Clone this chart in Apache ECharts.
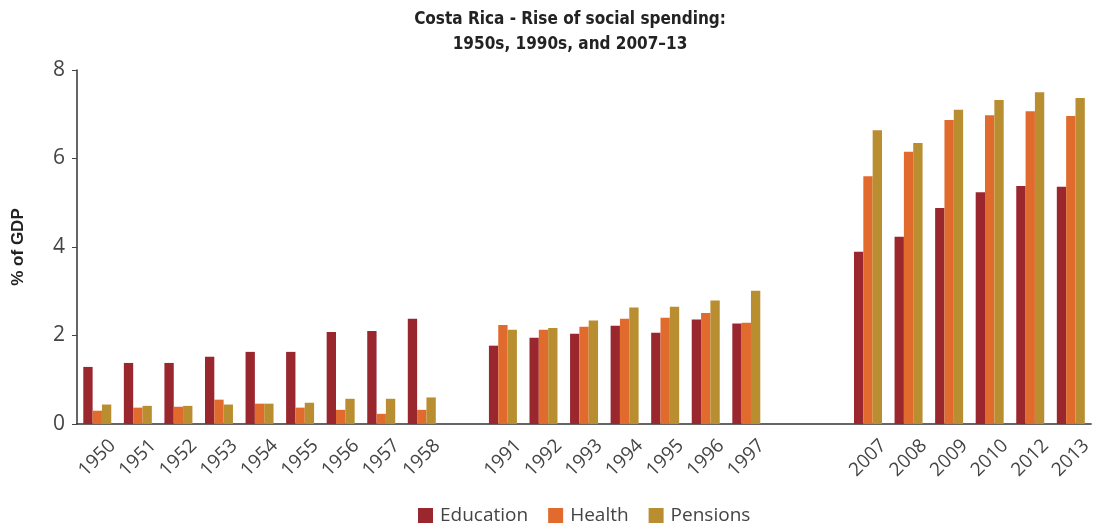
<!DOCTYPE html>
<html>
<head>
<meta charset="utf-8">
<script src="https://cdn.jsdelivr.net/npm/echarts@6/dist/echarts.min.js"></script>
<style>
html,body{margin:0;padding:0;background:#fff;}
#chart{width:1095px;height:529px;}
</style>
</head>
<body>
<div id="chart"></div>
<script>
const categories = ['1950','1951','1952','1953','1954','1955','1956','1957','1958',' ','1991','1992','1993','1994','1995','1996','1997','  ','   ','2007','2008','2009','2010','2012','2013'];
const education = [1.29,1.38,1.38,1.52,1.63,1.63,2.08,2.10,2.38,null,1.77,1.95,2.04,2.22,2.06,2.36,2.27,null,null,3.89,4.23,4.88,5.24,5.38,5.36];
const health    = [0.30,0.37,0.39,0.55,0.46,0.37,0.32,0.23,0.32,null,2.24,2.13,2.20,2.38,2.40,2.51,2.29,null,null,5.60,6.15,6.87,6.98,7.07,6.96];
const pensions  = [0.44,0.41,0.41,0.44,0.46,0.48,0.57,0.57,0.60,null,2.13,2.17,2.34,2.63,2.65,2.79,3.01,null,null,6.64,6.35,7.10,7.32,7.50,7.37];
const yTicks = [0, 2, 4, 6, 8];
const seriesNames = ['Education','Health','Pensions'];
const colors = ['#9A262E','#E06B2C','#B98E30'];

const tickIdx = new Set([0,1,2,3,4,5,6,7,8,11,12,13,14,15,16,18,20,21,22,23,24,25]);
const labelFont = '"Open Sans", Lato, sans-serif';

const chart = echarts.init(document.getElementById('chart'), null, {renderer:'canvas'});
chart.setOption({
  animation: false,
  color: colors,
  title: {
    text: 'Costa Rica - Rise of social spending:\n1950s, 1990s, and 2007\u201313',
    left: 565, top: 2, textAlign: 'center',
    textStyle: {fontFamily: '"Liberation Sans Narrow", "DejaVu Sans Condensed", sans-serif', fontWeight: 'bold', fontSize: 17, lineHeight: 25, color: '#222'}
  },
  legend: {
    data: seriesNames, bottom: -1, left: 413,
    itemWidth: 15, itemHeight: 15, itemGap: 20, icon: 'rect',
    textStyle: {fontFamily: labelFont, fontSize: 19, color: '#444', padding: [0,0,0,2]}
  },
  grid: {left: 77, right: 3, top: 70, bottom: 105, containLabel: false},
  xAxis: [{
    type: 'category', data: categories,
    axisLine: {lineStyle: {color: '#333', width: 1.5}},
    axisTick: {length: 7, lineStyle: {color: '#444', width: 1.5}, interval: (i) => tickIdx.has(i)},
    axisLabel: {interval: 0, rotate: 45, align: 'center', verticalAlign: 'middle', fontFamily: labelFont, fontSize: 19, color: '#444', margin: 34},
    splitLine: {show: false}
  }, {
    type: 'category', data: categories, position: 'bottom',
    axisLine: {show: false},
    axisTick: {alignWithLabel: true, length: 7, lineStyle: {color: '#444', width: 1.5}, interval: (i) => i === 9},
    axisLabel: {show: false}, splitLine: {show: false}
  }],
  yAxis: {
    type: 'value', min: 0, max: 8, interval: 2,
    name: '% of GDP', nameLocation: 'middle', nameGap: 50,
    nameTextStyle: {fontFamily: '"Liberation Sans", Arial, sans-serif', fontWeight: 'bold', fontSize: 17, color: '#222'},
    axisLine: {show: true, lineStyle: {color: '#333', width: 1.5}},
    axisTick: {show: true, length: 5, lineStyle: {color: '#444'}},
    axisLabel: {fontFamily: labelFont, fontSize: 21, color: '#444', margin: 12, formatter: (v) => yTicks.includes(v) ? String(v) : ''},
    splitLine: {show: false}
  },
  series: [
    {name: seriesNames[0], type: 'bar', data: education, barGap: '0%', barCategoryGap: '31%'},
    {name: seriesNames[1], type: 'bar', data: health, barGap: '0%', barCategoryGap: '31%'},
    {name: seriesNames[2], type: 'bar', data: pensions, barGap: '0%', barCategoryGap: '31%'}
  ]
});
</script>
</body>
</html>
